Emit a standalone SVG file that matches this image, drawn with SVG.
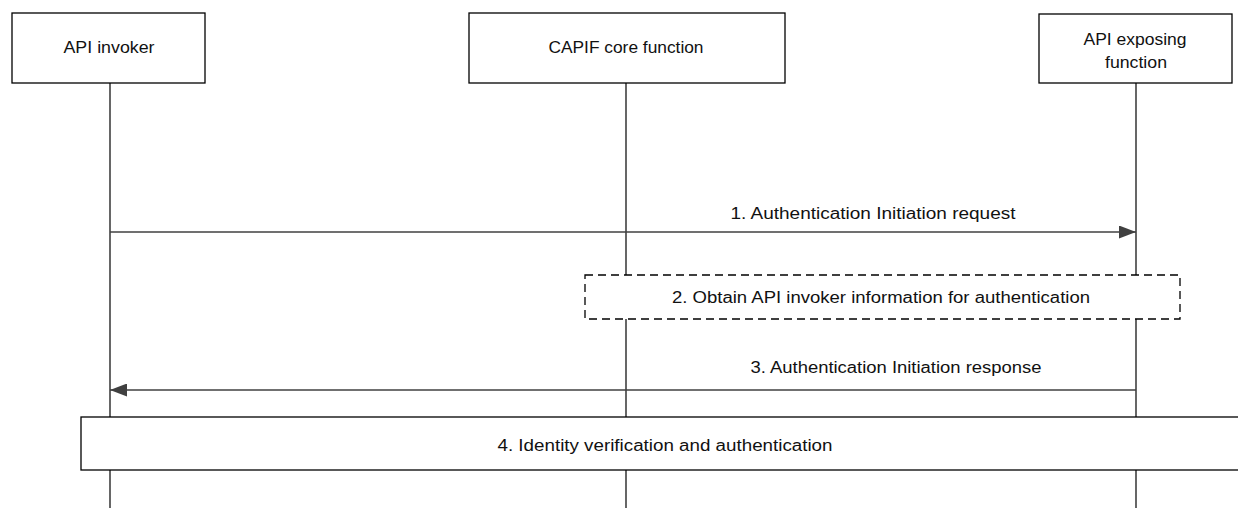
<svg xmlns="http://www.w3.org/2000/svg" width="1238" height="508" viewBox="0 0 1238 508">
<style>
.box{fill:#fff;stroke:#000;stroke-width:1.3}
.life{stroke:#000;stroke-width:1.2;fill:none}
.msg{stroke:#404040;stroke-width:1.3;fill:none}
.dash{fill:#fff;stroke:#000;stroke-width:1.3;stroke-dasharray:8,5}
text{font-family:"Liberation Sans",Arial,sans-serif;font-size:16px;fill:#111;text-anchor:middle}
</style>
<defs>
<marker id="ah" markerWidth="17" markerHeight="13" refX="17" refY="6.5" orient="auto" markerUnits="userSpaceOnUse">
<path d="M0,0 L17,6.5 L0,13 Z" fill="#404040"/>
</marker>
</defs>
<g id="lifelines">
<line class="life" x1="110" y1="83" x2="110" y2="508"/>
<line class="life" x1="626" y1="83" x2="626" y2="508"/>
<line class="life" x1="1136" y1="83" x2="1136" y2="508"/>
</g>
<g id="node-invoker">
<rect class="box" x="12" y="13" width="193" height="70"/>
<text x="109" y="53" textLength="91" lengthAdjust="spacingAndGlyphs">API invoker</text>
</g>
<g id="node-capif">
<rect class="box" x="469" y="13" width="316" height="70"/>
<text x="626" y="53" textLength="155" lengthAdjust="spacingAndGlyphs">CAPIF core function</text>
</g>
<g id="node-aef">
<rect class="box" x="1039" y="14" width="193" height="69"/>
<text x="1135" y="45" textLength="103" lengthAdjust="spacingAndGlyphs">API exposing</text>
<text x="1136" y="68" textLength="62" lengthAdjust="spacingAndGlyphs">function</text>
</g>
<g id="connectors">
<line class="msg" x1="110" y1="232" x2="1136" y2="232" marker-end="url(#ah)"/>
<text x="873" y="219" textLength="285" lengthAdjust="spacingAndGlyphs">1. Authentication Initiation request</text>
<line class="msg" x1="1136" y1="390" x2="110" y2="390" marker-end="url(#ah)"/>
<text x="896" y="373" textLength="291" lengthAdjust="spacingAndGlyphs">3. Authentication Initiation response</text>
</g>
<g id="node-step2">
<rect class="dash" x="585" y="275" width="595" height="44"/>
<text x="881" y="303" textLength="418" lengthAdjust="spacingAndGlyphs">2. Obtain API invoker information for authentication</text>
</g>
<g id="node-step4">
<rect class="box" x="81" y="417" width="1170" height="53"/>
<text x="665" y="451" textLength="335" lengthAdjust="spacingAndGlyphs">4. Identity verification and authentication</text>
</g>
</svg>
